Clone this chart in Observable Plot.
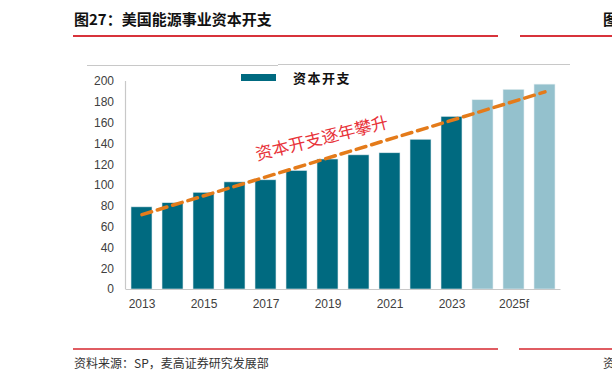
<!DOCTYPE html>
<html>
<head>
<meta charset="utf-8">
<script src="https://cdn.jsdelivr.net/npm/d3@7"></script>
<script src="https://cdn.jsdelivr.net/npm/@observablehq/plot@0.6"></script>
<style>
  body { margin:0; width:612px; height:381px; overflow:hidden; position:relative; background:#fff; font-family:"Noto Sans CJK SC", sans-serif; }
  .abs { position:absolute; white-space:nowrap; }
</style>
</head>
<body>
<div id="chart" class="abs" style="left:0;top:0"></div>

<div class="abs" style="left:74px;top:8px;font-size:15px;font-weight:700;color:#111;line-height:22px;">图27：美国能源事业资本开支</div>
<div class="abs" style="left:73px;top:35px;width:425px;height:1.5px;background:#d8333b"></div>
<div class="abs" style="left:520px;top:35px;width:92px;height:1.5px;background:#d8333b"></div>
<div class="abs" style="left:603px;top:8px;font-size:15px;font-weight:700;color:#111;line-height:22px;">图</div>

<div class="abs" style="left:87px;top:65px;width:191px;height:1px;background:#c8c8c8"></div>
<div class="abs" style="left:278px;top:64px;width:292px;height:1px;background:#c8c8c8"></div>

<div class="abs" style="left:241px;top:74px;width:35px;height:7px;background:#006a80"></div>
<div class="abs" style="left:293px;top:69px;font-size:13px;font-weight:700;letter-spacing:1.5px;color:#111;line-height:18px;">资本开支</div>

<div class="abs" style="left:73px;top:348px;width:425px;height:1.5px;background:#d8333b;opacity:0.8"></div>
<div class="abs" style="left:519px;top:348px;width:93px;height:1.5px;background:#d8333b;opacity:0.8"></div>
<div class="abs" style="left:74px;top:355px;font-size:12px;color:#333;line-height:16px;">资料来源：SP，麦高证券研究发展部</div>
<div class="abs" style="left:603px;top:355px;font-size:12px;color:#333;line-height:16px;">资</div>

<script>
const categories = ["2013","2014","2015","2016","2017","2018","2019","2020","2021","2022","2023","2024f","2025f","2026f"];
const capex      = [79, 83, 93, 103, 105, 114, 125, 129, 131, 144, 166, 182, 192, 197];
const forecast   = [false,false,false,false,false,false,false,false,false,false,false,true,true,true];
const tickLabels = ["2013","2015","2017","2019","2021","2023","2025f"];
const yTicks     = [0,20,40,60,80,100,120,140,160,180,200];
const trendYears  = ["2013","2026f"];
const trendValues = [72, 190];
const annotationText = "资本开支逐年攀升";

const rows = categories.map((c,i) => ({year:c, value:capex[i], forecast:forecast[i]}));
const trend = trendYears.map((c,i) => ({year:c, value:trendValues[i]}));
const tickText = d => d;

const chart = Plot.plot({
  width: 612,
  height: 381,
  marginTop: 81,
  marginBottom: 92,
  marginLeft: 125.5,
  marginRight: 51.5,
  style: { fontFamily: "'Liberation Sans', Arial, sans-serif", fontSize: "12px", color: "#404040", background: "transparent", overflow: "visible" },
  x: { domain: categories, paddingInner: 0.32, paddingOuter: 0.16, label: null },
  y: { domain: [0, 200], label: null },
  marks: [
    Plot.barY(rows.filter(d => !d.forecast), { x: "year", y: "value", fill: "#006a80", stroke: "#dfeaee", strokeWidth: 0.6 }),
    Plot.barY(rows.filter(d => d.forecast), { x: "year", y: "value", fill: "#94c1cd", stroke: "#e3eef1", strokeWidth: 0.6 }),
    Plot.ruleY([0], { stroke: "#c8c8c8", strokeWidth: 1.2 }),
    Plot.axisY({ ticks: yTicks, tickSize: 0, tickPadding: 12, fontSize: 12, fill: "#404040", label: null }),
    Plot.axisX({ ticks: tickLabels, tickSize: 0, tickPadding: 10, fontSize: 12, fill: "#404040", label: null, tickFormat: tickText }),
    Plot.line(trend, { x: "year", y: "value", stroke: "#e47b1a", strokeWidth: 3.5, strokeDasharray: "10,6" }),
    Plot.text([{year: "2019", value: 145, label: annotationText}], {
      x: "year", y: "value", text: "label", dx: -6, rotate: -14,
      fill: "#e8333a", fontSize: 17, fontFamily: "'Noto Sans CJK SC', sans-serif", letterSpacing: "2.5px"
    })
  ]
});

document.getElementById("chart").appendChild(chart);

// vertical axis line along the left edge of the plotting area
const y0 = 381 - 92, y1 = 81;
d3.select(chart).append("line")
  .attr("x1", 125.5).attr("x2", 125.5)
  .attr("y1", y1).attr("y2", y0)
  .attr("stroke", "#c8c8c8").attr("stroke-width", 1.2);
</script>
</body>
</html>
